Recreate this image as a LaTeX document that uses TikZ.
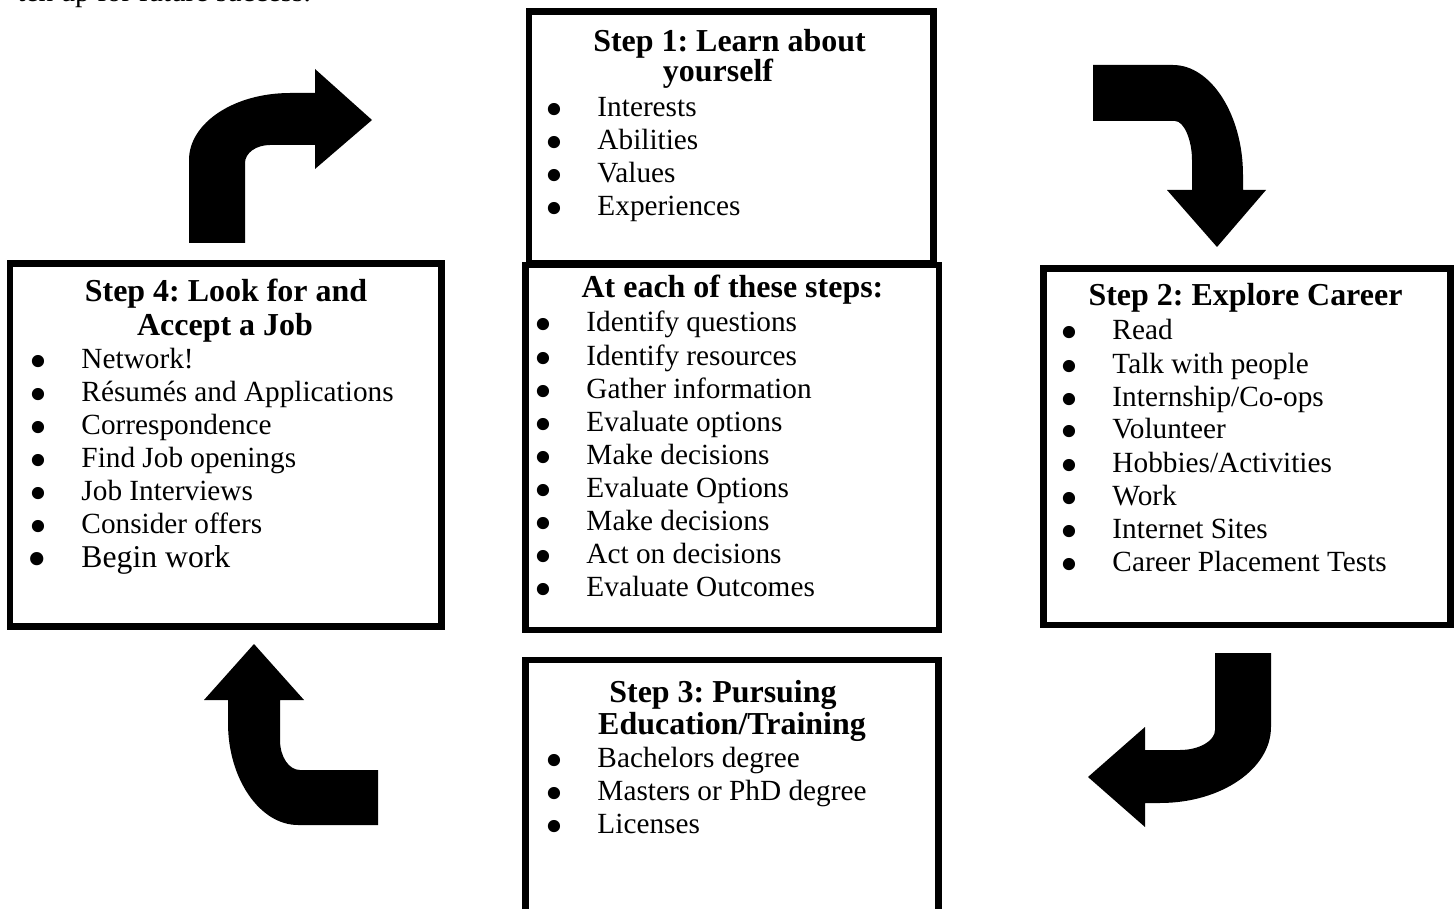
\documentclass[tikz,border=0pt]{standalone}
\usepackage{fontspec}
\usepackage{graphicx}
\setmainfont{Liberation Serif}
\frenchspacing

\newcommand{\bul}{\llap{\smash{\raisebox{-4.1pt}{\scalebox{1.75}{\textbullet}}}\hspace{14pt}}}

\tikzset{
	stepbox/.style={draw, line width=2.5pt, inner sep=0pt},
	head/.style={anchor=base, inner sep=0pt, font=\fontsize{13.1}{15}\selectfont\bfseries},
	item/.style={anchor=base west, inner sep=0pt, font=\fontsize{12}{14}\selectfont},
	bigarrow/.style={fill=black}
}

\begin{document}
\begin{tikzpicture}[x=0.41pt, y=-0.41pt]
		\clip (0,0) rectangle (1455,909);
		\node [item] (lead) at (17,2) {ten up for future success.};

		% Step 1
		\node [stepbox, minimum width=404.5*0.41pt, minimum height=251.5*0.41pt] (s1) at (731.25,137.25) {};
		\node [head] (s1h) at (729.5,52) {Step 1: Learn about};
		\node [head] (s1h2) at (718,82) {yourself};
		\foreach \txt [count=\i from 0] in {Interests, Abilities, Values, Experiences}
			\node [item] (s1-\i) at (597,117+33*\i) {\bul\txt};

		% at each step
		\node [stepbox, minimum width=413.5*0.41pt, minimum height=365*0.41pt] (mid) at (732.25,447.5) {};
		\node [head] (midh) at (732.5,298) {At each of these steps:};
		\foreach \txt [count=\i from 0] in {Identify questions, Identify resources, Gather information,
			Evaluate options, Make decisions, Evaluate Options, Make decisions, Act on decisions, Evaluate Outcomes}
			\node [item] (mid-\i) at (586,332+33.1*\i) {\bul\txt};

		% Step 2
		\node [stepbox, minimum width=407*0.41pt, minimum height=356.5*0.41pt] (s2) at (1247,446.75) {};
		\node [head] (s2h) at (1245.5,305) {Step 2: Explore Career};
		\foreach \txt [count=\i from 0] in {Read, Talk with people, Internship/Co-ops, Volunteer,
			Hobbies/Activities, Work, Internet Sites, Career Placement Tests}
			\node [item] (s2-\i) at (1112,340+33*\i) {\bul\txt};

		% Step 3
		\node [stepbox, minimum width=413*0.41pt, minimum height=270*0.41pt] (s3) at (732,795) {};
		\node [head] (s3h) at (723,702) {Step 3: Pursuing};
		\node [head] (s3h2) at (732,734) {Education/Training};
		\foreach \txt [count=\i from 0] in {Bachelors degree, Masters or PhD degree, Licenses}
			\node [item] (s3-\i) at (597,767+33*\i) {\bul\txt};

		% Step 4
		\node [stepbox, minimum width=431.5*0.41pt, minimum height=363*0.41pt] (s4) at (225.75,445) {};
		\node [head] (s4h) at (226,302) {Step 4: Look for and};
		\node [head] (s4h2) at (225,335) {Accept a Job};
		\foreach \txt [count=\i from 0] in {Network!, Résumés and Applications, Correspondence,
			Find Job openings, Job Interviews, Consider offers}
			\node [item] (s4-\i) at (81,368+33.1*\i) {\bul\txt};
		\node [item, font=\fontsize{13}{15}\selectfont] (s4-6) at (81,567) {\bul Begin work};

		% turning arrows
		\fill [bigarrow] (189,243) -- (189,160) .. controls (189,123) and (234,93) .. (290,93)
			-- (315,93) -- (315,69) -- (372,120) -- (315,169) -- (315,145) -- (270,145)
			.. controls (256,145) and (245,153) .. (245,163) -- (245,243) -- cycle;
		\fill [bigarrow] (1093,65) -- (1173,65) .. controls (1211,65) and (1243,115) .. (1243,175)
			-- (1243,190) -- (1266,190) -- (1217,247) -- (1167,190) -- (1192,190) -- (1192,160)
			.. controls (1192,140) and (1184,121) .. (1175,121) -- (1093,121) -- cycle;
		\fill [bigarrow] (1215,653) -- (1271,653) -- (1271,727) .. controls (1271,769) and (1221,803) .. (1160,803)
			-- (1145,803) -- (1145,827) -- (1088,777) -- (1145,727) -- (1145,750) -- (1180,750)
			.. controls (1199,750) and (1215,741) .. (1215,730) -- cycle;
		\fill [bigarrow] (254,644) -- (304,700) -- (280,700) -- (280,740) .. controls (280,757) and (289,770) .. (300,770)
			-- (378,770) -- (378,825) -- (298,825) .. controls (260,825) and (228,779) .. (228,723)
			-- (228,700) -- (204,700) -- cycle;

	\end{tikzpicture}
\end{document}
